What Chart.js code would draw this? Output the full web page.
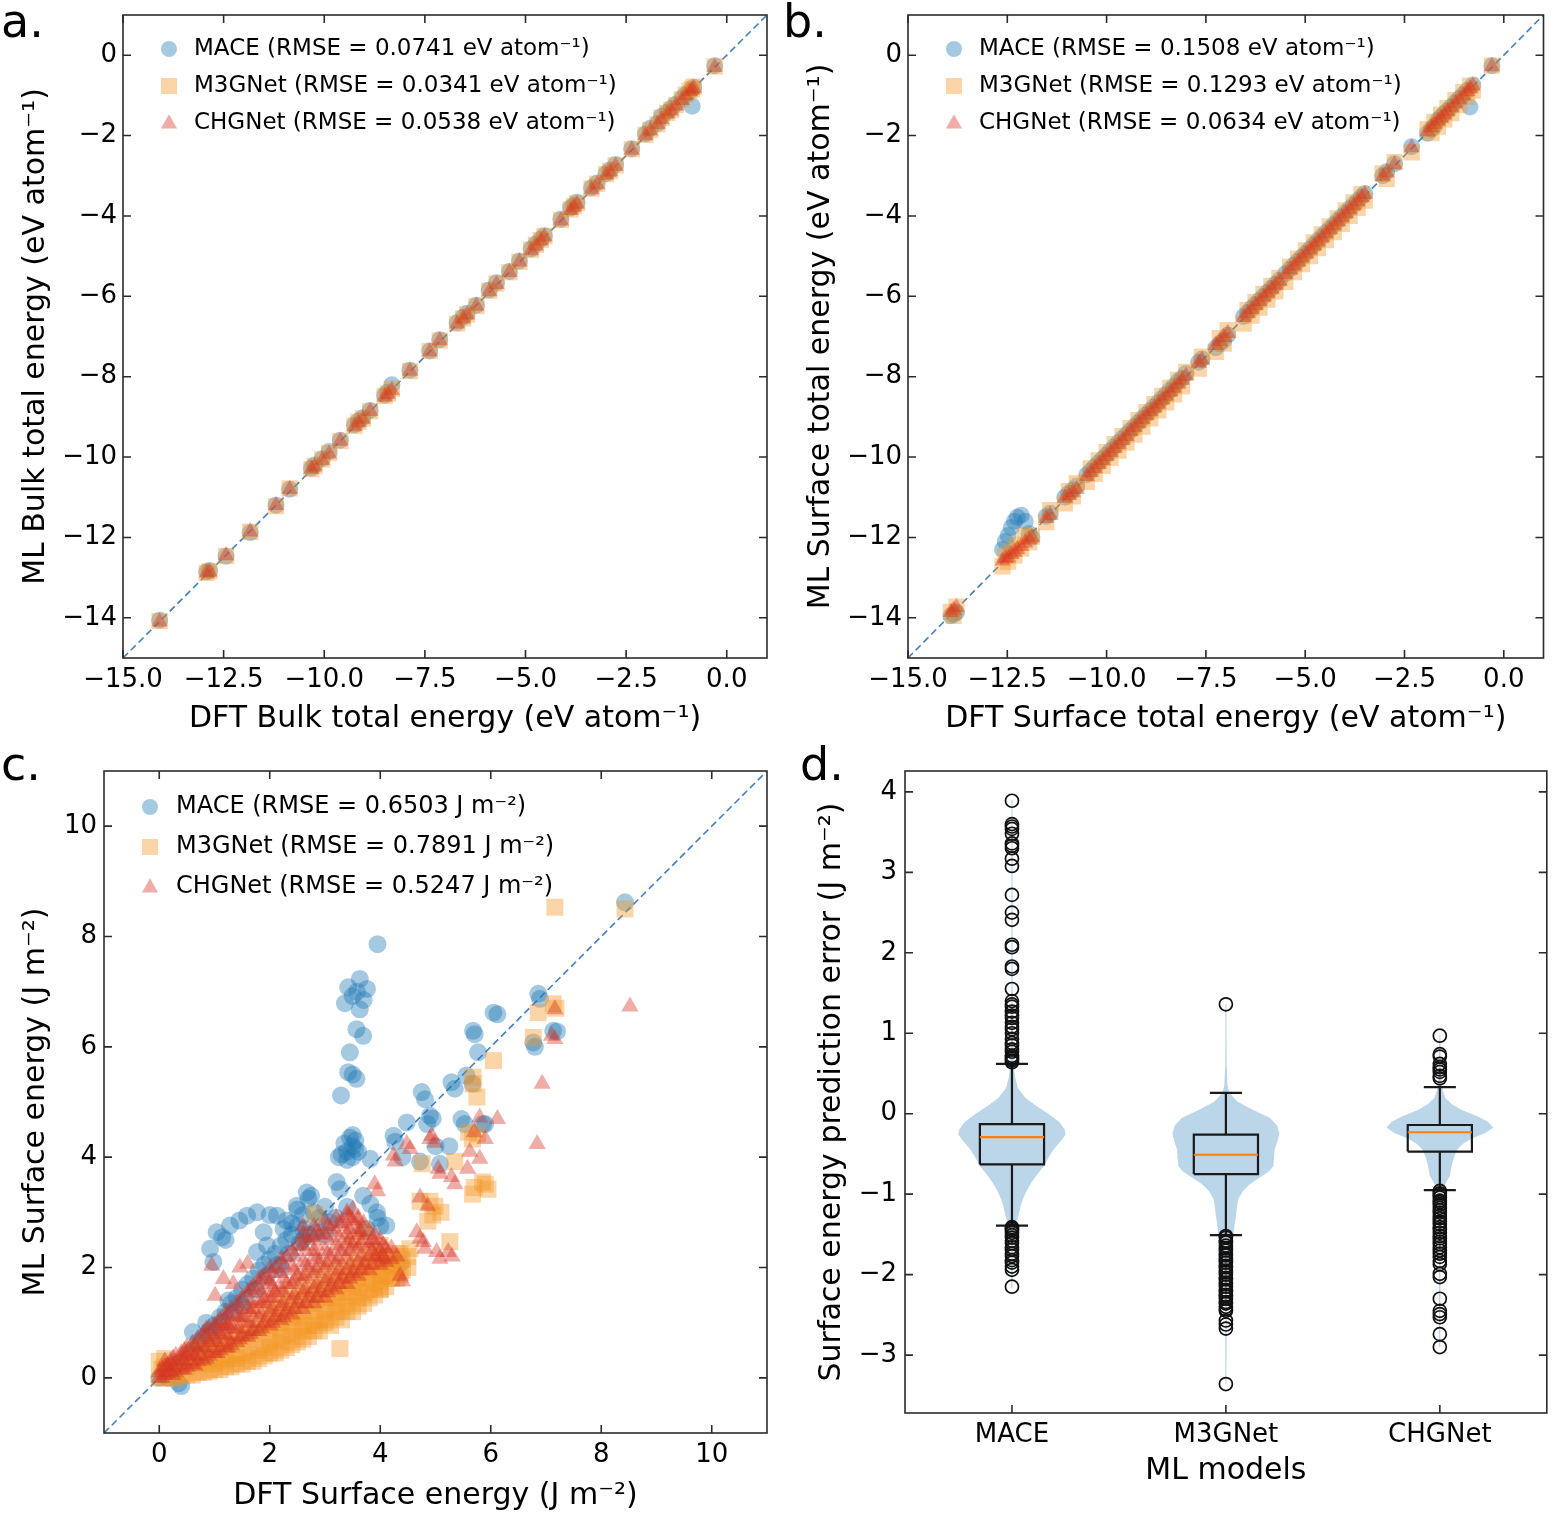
<!DOCTYPE html>
<html><head><meta charset="utf-8">
<script src="https://cdn.jsdelivr.net/npm/chart.js@4.4.1/dist/chart.umd.min.js"></script>
<style>
html,body{margin:0;padding:0;background:#fff}
body{position:relative;width:1555px;height:1514px;overflow:hidden}
canvas{position:absolute;display:block}
</style></head><body>
<canvas id="pa" width="780" height="740" style="left:0;top:0"></canvas>
<canvas id="pb" width="775" height="740" style="left:780px;top:0"></canvas>
<canvas id="pc" width="780" height="774" style="left:0;top:740px"></canvas>
<canvas id="pd" width="775" height="774" style="left:780px;top:740px"></canvas>
<script>
// ---------------- DATA ----------------
const seriesNames = ['MACE', 'M3GNet', 'CHGNet'];
const legendA = ['MACE (RMSE = 0.0741 eV atom\u207B\u00B9)', 'M3GNet (RMSE = 0.0341 eV atom\u207B\u00B9)', 'CHGNet (RMSE = 0.0538 eV atom\u207B\u00B9)'];
const legendB = ['MACE (RMSE = 0.1508 eV atom\u207B\u00B9)', 'M3GNet (RMSE = 0.1293 eV atom\u207B\u00B9)', 'CHGNet (RMSE = 0.0634 eV atom\u207B\u00B9)'];
const legendC = ['MACE (RMSE = 0.6503 J m\u207B\u00B2)', 'M3GNet (RMSE = 0.7891 J m\u207B\u00B2)', 'CHGNet (RMSE = 0.5247 J m\u207B\u00B2)'];

const energyRange = [-15, 1];
const energyTicksX = [-15, -12.5, -10, -7.5, -5, -2.5, 0];
const energyTicksY = [-14, -12, -10, -8, -6, -4, -2, 0];
const surfRange = [-1, 11];
const surfTicks = [0, 2, 4, 6, 8, 10];
const errRange = [-3.72, 4.26];
const errTicks = [-3, -2, -1, 0, 1, 2, 3, 4];

// panel a: bulk total energy
const bulkDFT = [-14.09,-12.92,-12.85,-12.44,-11.84,-11.2,-10.86,-10.32,-10.24,-10.05,-9.88,-9.6,-9.25,-9.15,-9.04,-8.86,-8.5,-8.42,-8.32,-7.87,-7.38,-7.13,-6.7,-6.55,-6.45,-6.22,-5.9,-5.72,-5.4,-5.15,-4.86,-4.74,-4.62,-4.53,-4.12,-3.88,-3.8,-3.72,-3.36,-3.22,-3.0,-2.9,-2.76,-2.36,-2.02,-1.9,-1.72,-1.62,-1.48,-1.38,-1.26,-1.12,-1.02,-0.92,-0.86,-0.82,-0.3];
const bulkMACE = [-14.06,-12.86,-12.82,-12.47,-11.88,-11.2,-10.8,-10.28,-10.2,-10.04,-9.86,-9.58,-9.2,-9.1,-9.02,-8.84,-8.46,-8.38,-8.2,-7.84,-7.36,-7.08,-6.66,-6.52,-6.42,-6.22,-5.84,-5.66,-5.38,-5.12,-4.82,-4.7,-4.58,-4.49,-4.08,-3.8,-3.74,-3.66,-3.3,-3.18,-2.95,-2.86,-2.72,-2.33,-1.96,-1.82,-1.7,-1.52,-1.42,-1.32,-1.22,-1.08,-0.98,-0.9,-1.27,-0.8,-0.26];
const bulkM3G = [-14.08,-12.88,-12.84,-12.46,-11.86,-11.22,-10.78,-10.3,-10.22,-10.06,-9.9,-9.6,-9.22,-9.12,-9.04,-8.86,-8.48,-8.42,-8.3,-7.86,-7.36,-7.1,-6.68,-6.55,-6.45,-6.24,-5.86,-5.68,-5.4,-5.14,-4.84,-4.72,-4.6,-4.5,-4.1,-3.84,-3.76,-3.68,-3.32,-3.2,-2.96,-2.88,-2.74,-2.34,-1.98,-1.86,-1.72,-1.56,-1.44,-1.36,-1.24,-1.1,-0.98,-0.88,-0.84,-0.78,-0.28];
const bulkCHG = [-14.1,-12.88,-12.86,-12.45,-11.86,-11.2,-10.8,-10.3,-10.24,-10.08,-9.92,-9.6,-9.24,-9.14,-9.05,-8.86,-8.5,-8.44,-8.34,-7.86,-7.38,-7.1,-6.68,-6.56,-6.46,-6.24,-5.88,-5.7,-5.4,-5.14,-4.86,-4.74,-4.62,-4.52,-4.12,-3.86,-3.78,-3.7,-3.34,-3.22,-2.98,-2.9,-2.76,-2.36,-2.0,-1.88,-1.72,-1.6,-1.46,-1.38,-1.26,-1.12,-1.0,-0.9,-0.86,-0.82,-0.3];

// panel b: surface total energy
const surfDFT = [-13.92,-13.85,-13.78,-12.62,-12.55,-12.48,-12.4,-12.32,-12.25,-12.15,
-12.05,-11.95,-11.88,-11.52,-11.42,-11.05,-10.95,-10.85,-10.75,-10.5,
-10.4,-10.3,-10.2,-10.1,-10.0,-9.9,-9.8,-9.7,-9.6,-9.5,
-9.4,-9.3,-9.2,-9.1,-9.0,-8.9,-8.8,-8.7,-8.6,-8.5,
-8.4,-8.3,-8.2,-8.1,-8.0,-7.68,-7.6,-7.25,-7.15,-7.05,
-6.95,-6.55,-6.45,-6.35,-6.25,-6.15,-6.05,-5.95,-5.85,-5.75,
-5.65,-5.5,-5.38,-5.28,-5.18,-5.08,-4.98,-4.88,-4.78,-4.68,
-4.58,-4.48,-4.38,-4.28,-4.18,-4.08,-3.98,-3.88,-3.78,-3.68,
-3.58,-3.5,-3.05,-2.95,-2.75,-2.32,-1.92,-1.82,-1.75,-1.66,
-1.58,-1.5,-1.42,-1.32,-1.22,-1.12,-1.02,-0.92,-0.85,-0.78,-0.3];
const surfMACE = [-13.95,-13.92,-13.86,-12.3,-12.1,-11.95,-11.75,-11.6,-11.5,-11.45,
-11.6,-11.9,-12.0,-11.48,-11.4,-11.0,-10.9,-10.82,-10.72,-10.44,
-10.34,-10.24,-10.14,-10.04,-9.94,-9.84,-9.74,-9.64,-9.54,-9.44,
-9.34,-9.24,-9.14,-9.04,-8.94,-8.84,-8.74,-8.64,-8.54,-8.44,
-8.34,-8.24,-8.12,-8.04,-7.92,-7.64,-7.56,-7.28,-7.18,-7.1,
-6.96,-6.5,-6.4,-6.3,-6.2,-6.1,-6.0,-5.9,-5.8,-5.7,
-5.6,-5.44,-5.32,-5.22,-5.12,-5.02,-4.92,-4.82,-4.72,-4.62,
-4.52,-4.42,-4.32,-4.22,-4.12,-4.02,-3.92,-3.82,-3.72,-3.62,
-3.52,-3.44,-3.0,-2.9,-2.7,-2.28,-1.94,-1.84,-1.76,-1.62,
-1.54,-1.46,-1.38,-1.28,-1.18,-1.08,-0.98,-0.88,-1.29,-0.74,-0.26];
const surfM3G = [-13.85,-13.95,-13.72,-12.72,-12.45,-12.6,-12.32,-12.45,-12.18,-12.28,
-11.95,-12.12,-11.98,-11.62,-11.32,-11.15,-10.85,-10.98,-10.65,-10.62,
-10.28,-10.42,-10.08,-10.22,-9.88,-10.02,-9.68,-9.84,-9.48,-9.64,
-9.28,-9.44,-9.08,-9.24,-8.88,-9.04,-8.68,-8.84,-8.48,-8.64,
-8.28,-8.44,-8.08,-8.24,-7.88,-7.8,-7.5,-7.38,-7.04,-7.18,
-6.84,-6.68,-6.34,-6.48,-6.14,-6.28,-5.94,-6.08,-5.74,-5.88,
-5.54,-5.64,-5.26,-5.4,-5.06,-5.2,-4.86,-5.0,-4.66,-4.8,
-4.46,-4.6,-4.26,-4.4,-4.06,-4.2,-3.86,-4.0,-3.66,-3.8,
-3.46,-3.62,-2.94,-3.08,-2.66,-2.42,-1.84,-1.94,-1.66,-1.78,
-1.48,-1.6,-1.32,-1.44,-1.12,-1.24,-0.92,-1.04,-0.76,-0.88,-0.26];
const surfCHG = [-13.86,-13.8,-13.74,-12.58,-12.52,-12.5,-12.42,-12.36,-12.3,-12.22,
-12.14,-12.05,-12.0,-11.52,-11.45,-11.02,-10.95,-10.88,-10.8,-10.48,
-10.38,-10.28,-10.18,-10.08,-9.98,-9.88,-9.78,-9.68,-9.58,-9.48,
-9.36,-9.26,-9.16,-9.06,-8.96,-8.86,-8.78,-8.68,-8.58,-8.48,
-8.38,-8.28,-8.18,-8.08,-7.98,-7.66,-7.58,-7.22,-7.12,-7.02,
-6.92,-6.52,-6.42,-6.32,-6.22,-6.12,-6.02,-5.92,-5.82,-5.72,
-5.62,-5.46,-5.34,-5.24,-5.14,-5.04,-4.94,-4.84,-4.74,-4.64,
-4.54,-4.44,-4.34,-4.24,-4.14,-4.04,-3.94,-3.84,-3.74,-3.64,
-3.54,-3.46,-3.02,-2.92,-2.72,-2.3,-1.9,-1.8,-1.72,-1.64,
-1.56,-1.48,-1.4,-1.3,-1.2,-1.1,-1.0,-0.9,-0.83,-0.76,-0.28];

// panel c: surface energy [DFT, ML] pairs
const maceSE = [[3.95,7.86],[3.63,7.23],[3.42,7.08],[3.76,7.05],[3.58,7.0],[3.5,6.92],[3.36,6.79],[3.63,6.68],[3.7,6.85],[3.57,6.32],[3.69,6.2],[3.45,5.9],[3.42,5.54],[3.57,5.42],[3.5,5.5],[3.29,5.12],
[3.3,4.05],[3.4,4.1],[3.5,4.2],[3.45,4.35],[3.55,4.3],[3.35,4.25],[3.6,4.1],[3.25,4.0],[3.5,4.0],[3.4,3.95],[3.55,4.15],[3.5,4.4],
[3.82,3.97],[3.21,3.55],[3.69,3.3],[2.67,3.36],[2.49,3.12],[3.27,3.42],[3.82,3.15],[3.95,2.9],[3.94,3.0],[4.11,2.76],[3.09,2.82],[2.85,2.64],[4.36,2.07],[4.0,2.75],[3.75,2.7],
[1.77,3.0],[1.59,2.94],[1.28,2.76],[1.04,2.64],[0.92,2.34],[0.98,2.1],[1.14,2.55],[2.13,2.94],[2.25,2.7],[1.89,2.64],[1.95,2.4],[1.77,2.28],[1.45,2.85],[2.0,2.95],[2.4,2.8],[1.2,2.5],
[4.72,3.92],[4.27,4.28],[5.08,3.88],[5.53,4.6],[5.9,4.6],[5.67,5.33],[5.71,6.23],[6.12,6.59],[6.8,6.0],[6.89,6.87],[7.2,6.28],[4.81,5.05],[4.75,5.18],[5.35,5.24],[5.29,5.36],[5.56,5.48],[5.68,6.29],[5.77,5.9],[6.05,6.62],[6.86,6.96],[7.13,6.29],[6.77,6.08],[8.43,8.62],[4.9,4.75],[4.48,4.63],[4.24,4.39],[5.47,4.69],[5.86,4.6],[5.0,4.2],[4.95,4.7],[4.85,4.6],[4.4,4.0],[5.25,4.2],
[0.0,0.0],[0.1,0.05],[0.2,0.15],[0.3,0.25],[0.4,-0.15],[0.35,-0.1],[0.5,0.35],[0.6,0.5],[0.7,0.65],[0.8,0.75],[0.9,0.85],[1.0,0.95],[1.1,1.1],[1.2,1.2],[1.3,1.35],[1.4,1.45],[1.5,1.6],[1.6,1.7],[1.7,1.8],[1.8,1.95],[1.9,2.05],[2.0,2.15],[2.1,2.25],[2.2,2.4],[2.3,2.5],[2.4,2.6],[2.5,2.75],[2.6,2.95],[2.7,3.25],[2.75,3.3],[2.2,2.0],[1.5,1.3],[1.0,0.7],[0.7,0.4],[2.6,2.5],[3.0,2.6],[0.61,0.83],[0.85,1.0],[1.25,1.4],
[0.15,0.0],[0.25,0.1],[0.45,0.3],[0.55,0.45],[0.75,0.6],[0.95,0.8],[1.15,1.0],[1.35,1.2],[1.55,1.4],[1.75,1.6],[1.95,1.85],[2.15,2.05],[2.35,2.25],[2.55,2.45],[2.65,2.7],[2.8,3.0],[2.5,3.05],[2.3,2.85],[3.0,3.1],[2.9,2.9],[2.7,2.6],[3.2,2.9],[3.4,3.1]];
const m3gSE = [[7.16,8.53],[8.43,8.5],[7.13,6.78],[6.86,6.62],[6.77,6.17],[6.05,5.75],[5.68,5.33],[5.75,5.09],[5.68,5.45],[5.76,4.42],[5.67,4.33],[5.9,3.51],[5.67,3.33],[5.95,3.42],[5.35,3.92],[4.76,3.88],[4.72,3.2],[4.99,3.11],[4.86,2.84],[4.95,2.95],[5.26,2.47],[4.54,2.34],[4.36,2.25],[4.18,2.11],[4.36,1.88],[4.04,1.84],[4.0,1.61],[3.27,0.53],[2.82,2.97],[5.7,3.45],[5.85,3.55],[5.1,3.0],[4.9,3.2],[5.6,4.45],[7.18,6.7],
[0.0,0.0],[0.0,0.3],[0.05,0.15],[0.1,0.35],[0.2,0.0],[0.2,0.2],[0.3,0.1],[0.4,0.05],[0.4,0.3],[0.6,0.05],[0.6,0.3],[0.6,0.5],[0.8,0.1],[0.8,0.35],[0.8,0.6],[1.0,0.15],[1.0,0.45],[1.0,0.7],[1.2,0.2],[1.2,0.5],[1.2,0.85],[1.4,0.25],[1.4,0.6],[1.4,0.95],[1.6,0.3],[1.6,0.7],[1.6,1.1],[1.8,0.35],[1.8,0.8],[1.8,1.25],[2.0,0.45],[2.0,0.9],[2.0,1.4],[2.2,0.5],[2.2,1.0],[2.2,1.5],[2.4,0.6],[2.4,1.1],[2.4,1.6],[2.6,0.7],[2.6,1.2],[2.6,1.75],[2.8,0.85],[2.8,1.35],[2.8,1.85],[3.0,1.0],[3.0,1.45],[3.0,1.95],[3.2,1.1],[3.2,1.55],[3.2,2.0],[3.4,1.2],[3.4,1.7],[3.4,2.1],[3.6,1.3],[3.6,1.8],[3.6,2.2],[3.8,1.45],[3.8,1.95],[3.8,2.3],[4.0,1.6],[4.0,2.1],[4.0,2.4],[4.2,1.8],[4.2,2.2],[3.5,2.5],[3.7,2.65],[2.5,0.9],[1.9,0.6],[1.3,0.4],[3.1,1.25],[3.5,1.5],
[0.1,0.0],[0.1,0.2],[0.3,0.0],[0.3,0.2],[0.5,0.05],[0.5,0.2],[0.5,0.4],[0.7,0.1],[0.7,0.25],[0.7,0.45],[0.9,0.12],[0.9,0.3],[0.9,0.5],[1.1,0.15],[1.1,0.35],[1.1,0.6],[1.3,0.2],[1.3,0.65],[1.5,0.25],[1.5,0.45],[1.5,0.75],[1.7,0.3],[1.7,0.55],[1.7,0.85],[1.9,0.4],[1.9,0.95],[2.1,0.45],[2.1,0.7],[2.1,1.0],[2.1,1.25],[2.3,0.55],[2.3,0.8],[2.3,1.1],[2.3,1.35],[2.5,0.65],[2.5,1.15],[2.5,1.45],[2.7,0.75],[2.7,0.95],[2.7,1.25],[2.7,1.55],[2.9,0.85],[2.9,1.05],[2.9,1.35],[2.9,1.65],[3.1,0.95],[3.1,1.45],[3.1,1.75],[3.3,1.05],[3.3,1.3],[3.3,1.55],[3.3,1.85],[3.5,1.2],[3.5,1.65],[3.5,1.95],[3.7,1.35],[3.7,1.55],[3.7,1.75],[3.7,2.05],[3.9,1.5],[3.9,1.7],[3.9,1.9],[3.9,2.15],[4.1,1.65],[4.1,1.85],[4.1,2.05],[4.3,1.8],[4.3,2.0],[4.3,2.25],[4.5,2.0],[4.5,2.2],
[1.0,0.25],[1.0,0.5],[1.2,0.3],[1.2,0.6],[1.4,0.35],[1.4,0.7],[1.6,0.4],[1.6,0.8],[1.8,0.5],[1.8,0.9],[2.0,0.55],[2.0,0.75],[2.0,1.1],[2.2,0.65],[2.2,0.85],[2.2,1.2],[2.4,0.75],[2.4,0.95],[2.4,1.3],[2.6,0.85],[2.6,1.0],[2.6,1.4],[2.8,0.95],[2.8,1.15],[2.8,1.5],[3.0,1.05],[3.0,1.25],[3.0,1.6],[3.2,1.2],[3.2,1.4],[3.2,1.7],[3.4,1.35],[3.4,1.5],[3.4,1.8],[3.6,1.45],[3.6,1.65],[3.6,1.9],[3.8,1.6],[3.8,1.8],[3.8,2.05],[4.0,1.75],[4.0,1.9],[4.0,2.2],[4.2,1.9],[4.2,2.05],[4.4,1.95],[4.4,2.15]];
const chgSE = [[8.52,6.73],[6.93,5.33],[6.84,4.24],[7.16,6.68],[7.16,6.14],[6.12,4.69],[5.9,4.33],[5.8,4.72],[5.62,4.1],[5.8,3.97],[5.58,3.79],[5.35,3.51],[5.08,3.7],[4.9,4.33],[4.54,4.15],[4.27,3.92],[4.99,4.26],[3.95,3.38],[4.86,3.11],[4.72,2.52],[4.81,2.34],[5.08,2.16],[5.3,2.2],[4.4,1.75],[4.0,2.16],[3.9,3.51],[4.24,4.03],[4.48,4.24],[4.93,4.39],[5.05,3.79],[5.29,3.64],[4.72,3.27],[4.66,2.64],[4.78,2.46],[5.02,2.28],[5.23,2.28],[4.36,1.85],[1.01,1.49],[0.95,2.03],[1.16,1.79],[1.46,2.0],[1.6,2.07],[1.34,1.7],[7.1,6.2],[5.7,4.45],
[0.0,0.0],[0.0,0.1],[0.1,0.05],[0.1,0.2],[0.1,0.3],[0.3,0.1],[0.3,0.25],[0.3,0.4],[0.5,0.2],[0.5,0.4],[0.5,0.55],[0.7,0.3],[0.7,0.5],[0.7,0.7],[0.9,0.4],[0.9,0.65],[0.9,0.9],[1.1,0.5],[1.1,0.8],[1.1,1.05],[1.3,0.6],[1.3,0.95],[1.3,1.25],[1.5,0.75],[1.5,1.1],[1.5,1.45],[1.7,0.85],[1.7,1.25],[1.7,1.65],[1.9,1.0],[1.9,1.4],[1.9,1.85],[2.1,1.1],[2.1,1.55],[2.1,2.0],[2.3,1.2],[2.3,1.7],[2.3,2.2],[2.5,1.35],[2.5,1.85],[2.5,2.4],[2.6,2.6],[2.6,2.75],[2.7,1.45],[2.7,2.0],[2.7,2.5],[2.9,1.55],[2.9,2.1],[2.9,2.6],[3.1,1.65],[3.1,2.2],[3.1,2.7],[3.3,1.8],[3.3,2.3],[3.3,2.8],[3.4,2.6],[3.4,2.95],[3.5,1.9],[3.5,2.4],[3.5,2.85],[3.5,3.05],[3.6,2.7],[3.6,2.9],[3.7,2.05],[3.7,2.5],[3.7,2.8],[3.9,2.2],[3.9,2.45],[3.9,2.6],[4.1,2.1],[4.1,2.35],[4.3,2.2],[2.0,1.7],[1.2,0.9],[2.8,2.3],
[0.05,0.0],[0.05,0.15],[0.15,0.08],[0.15,0.22],[0.2,0.12],[0.2,0.3],[0.4,0.15],[0.4,0.32],[0.4,0.45],[0.6,0.25],[0.6,0.42],[0.6,0.62],[0.8,0.32],[0.8,0.55],[0.8,0.8],[1.0,0.45],[1.0,0.7],[1.0,0.95],[1.2,0.55],[1.2,0.78],[1.2,1.0],[1.2,1.18],[1.4,0.65],[1.4,0.88],[1.4,1.12],[1.4,1.35],[1.6,0.75],[1.6,1.0],[1.6,1.25],[1.6,1.55],[1.8,0.85],[1.8,1.1],[1.8,1.35],[1.8,1.6],[1.8,1.78],[2.0,0.95],[2.0,1.2],[2.0,1.45],[2.0,1.75],[2.0,1.98],[2.2,1.05],[2.2,1.3],[2.2,1.6],[2.2,1.9],[2.2,2.15],[2.4,1.15],[2.4,1.42],[2.4,1.7],[2.4,2.0],[2.4,2.3],[2.6,1.25],[2.6,1.55],[2.6,1.8],[2.6,2.1],[2.6,2.4],[2.8,1.35],[2.8,1.62],[2.8,1.9],[2.8,2.2],[2.8,2.55],[2.8,2.75],[3.0,1.45],[3.0,1.75],[3.0,2.0],[3.0,2.3],[3.0,2.6],[3.0,2.85],[3.2,1.6],[3.2,1.85],[3.2,2.1],[3.2,2.4],[3.2,2.65],[3.2,2.9],[3.4,1.7],[3.4,1.95],[3.4,2.2],[3.4,2.45],[3.4,2.75],[3.4,3.0],[3.6,1.85],[3.6,2.1],[3.6,2.35],[3.6,2.6],[3.6,2.85],[3.8,1.95],[3.8,2.2],[3.8,2.4],[3.8,2.65],[4.0,2.05],[4.0,2.3],[4.0,2.5],[4.2,2.15],[4.2,2.35],
[0.25,0.05],[0.25,0.2],[0.25,0.35],[0.45,0.15],[0.45,0.3],[0.45,0.48],[0.65,0.22],[0.65,0.4],[0.65,0.58],[0.85,0.35],[0.85,0.55],[0.85,0.75],[0.85,0.88],[1.05,0.45],[1.05,0.65],[1.05,0.85],[1.05,1.0],[1.25,0.55],[1.25,0.75],[1.25,0.95],[1.25,1.15],[1.45,0.7],[1.45,0.9],[1.45,1.1],[1.45,1.3],[1.65,0.8],[1.65,1.0],[1.65,1.2],[1.65,1.4],[1.65,1.6],[1.85,0.9],[1.85,1.15],[1.85,1.35],[1.85,1.55],[1.85,1.8],[2.05,1.0],[2.05,1.25],[2.05,1.45],[2.05,1.65],[2.05,1.9],[2.25,1.1],[2.25,1.35],[2.25,1.55],[2.25,1.8],[2.25,2.05],[2.45,1.25],[2.45,1.5],[2.45,1.75],[2.45,1.95],[2.45,2.2],[2.65,1.35],[2.65,1.6],[2.65,1.85],[2.65,2.05],[2.65,2.3],[2.65,2.55],[2.85,1.45],[2.85,1.7],[2.85,1.95],[2.85,2.15],[2.85,2.4],[2.85,2.65],[3.05,1.55],[3.05,1.8],[3.05,2.05],[3.05,2.25],[3.05,2.5],[3.05,2.75],[3.25,1.7],[3.25,1.95],[3.25,2.15],[3.25,2.35],[3.25,2.55],[3.25,2.8],[3.45,1.8],[3.45,2.05],[3.45,2.3],[3.45,2.5],[3.45,2.7],[3.45,2.9],[3.65,1.95],[3.65,2.2],[3.65,2.45],[3.65,2.65],[3.85,2.05],[3.85,2.3],[3.85,2.5],[4.05,2.2],[4.05,2.4]];

// panel d: surface energy prediction error
const models = ['MACE', 'M3GNet', 'CHGNet'];
const modelPos = [1, 2, 3];
const q1 = [-0.63, -0.75, -0.47];
const median = [-0.29, -0.51, -0.23];
const q3 = [-0.13, -0.26, -0.14];
const whiskLo = [-1.39, -1.51, -0.95];
const whiskHi = [0.62, 0.26, 0.33];
const outMACE = [3.89,3.6,3.57,3.54,3.48,3.36,3.33,3.3,3.17,3.08,2.72,2.5,2.41,2.1,2.07,1.83,1.8,1.55,1.4,1.36,1.33,1.27,1.22,1.19,1.13,1.08,1.05,1.0,0.93,0.88,0.85,0.8,0.77,0.72,0.7,0.68,0.66,0.64,-1.41,-1.43,-1.45,-1.48,-1.51,-1.54,-1.58,-1.61,-1.66,-1.69,-1.74,-1.77,-1.82,-1.85,-1.9,-1.94,-2.15];
const outM3G = [1.36,-1.52,-1.54,-1.58,-1.6,-1.64,-1.67,-1.7,-1.74,-1.76,-1.8,-1.82,-1.85,-1.89,-1.91,-1.95,-1.97,-2.0,-2.04,-2.06,-2.1,-2.12,-2.15,-2.19,-2.21,-2.25,-2.27,-2.3,-2.34,-2.36,-2.4,-2.43,-2.45,-2.57,-2.62,-2.67,-3.36];
const outCHG = [0.97,0.74,0.71,0.62,0.58,0.55,0.52,0.47,0.44,-0.96,-0.99,-1.01,-1.04,-1.08,-1.1,-1.13,-1.17,-1.2,-1.23,-1.27,-1.3,-1.34,-1.37,-1.41,-1.44,-1.48,-1.52,-1.55,-1.59,-1.62,-1.66,-1.7,-1.74,-1.78,-1.83,-1.87,-1.99,-2.03,-2.3,-2.45,-2.49,-2.53,-2.74,-2.9];
// violin density profiles: [error value, relative density (max = 1)]
const vioMACE = [[3.9,0.01],[1.2,0.015],[0.6,0.03],[0.45,0.06],[0.32,0.11],[0.2,0.25],[0.1,0.45],[0.0,0.68],[-0.1,0.88],[-0.2,0.99],[-0.26,1.0],[-0.35,0.9],[-0.45,0.77],[-0.55,0.68],[-0.65,0.6],[-0.75,0.48],[-0.85,0.37],[-0.95,0.28],[-1.05,0.21],[-1.15,0.16],[-1.27,0.12],[-1.38,0.06],[-1.5,0.03],[-1.8,0.015],[-2.17,0.01]];
const vioM3G = [[1.36,0.01],[0.6,0.015],[0.35,0.03],[0.25,0.07],[0.15,0.22],[0.05,0.5],[-0.05,0.82],[-0.15,0.96],[-0.25,1.0],[-0.35,0.96],[-0.45,0.91],[-0.55,0.9],[-0.65,0.89],[-0.72,0.8],[-0.8,0.62],[-0.88,0.44],[-0.96,0.32],[-1.06,0.23],[-1.2,0.2],[-1.35,0.17],[-1.5,0.14],[-1.65,0.08],[-1.85,0.04],[-2.2,0.02],[-2.6,0.012],[-3.36,0.008]];
const vioCHG = [[0.98,0.01],[0.5,0.02],[0.3,0.05],[0.2,0.1],[0.12,0.22],[0.05,0.4],[-0.03,0.7],[-0.1,0.9],[-0.17,1.0],[-0.24,0.85],[-0.31,0.59],[-0.38,0.42],[-0.45,0.32],[-0.55,0.26],[-0.65,0.22],[-0.77,0.19],[-0.85,0.12],[-0.95,0.06],[-1.1,0.03],[-1.5,0.015],[-2.9,0.01]];

// ---------------- STYLE ----------------
const FAM = '"DejaVu Sans", "Liberation Sans", sans-serif';
const COL = ['rgba(31,119,180,0.4)', 'rgba(245,150,35,0.4)', 'rgba(212,50,35,0.4)'];
const STY = ['circle', 'rect', 'triangle'];
const VIOLIN_HALF = 0.25, BOX_HALF = 0.15, CAP_HALF = 0.075;

const minus = s => String(s).replace('-', '\u2212');
const fmtInt = v => minus(v);
const fmt1 = v => minus(v.toFixed(1));

function makeScale(o) {
  return {
    type: 'linear', position: o.pos, min: o.min, max: o.max,
    afterBuildTicks: s => { s.ticks = o.ticks.map(v => ({ value: v })); },
    afterFit: s => {
      if (o.pos === 'left') s.width = o.size; else s.height = o.size;
      s.paddingTop = 0; s.paddingBottom = 0; s.paddingLeft = 0; s.paddingRight = 0;
    },
    grid: { display: false, drawTicks: false },
    border: { display: false },
    ticks: { font: { family: FAM, size: 26 }, color: '#000', padding: o.tickPad, callback: o.fmt, maxRotation: 0, autoSkip: false },
    title: { display: true, text: o.title, font: { family: FAM, size: 30 }, color: '#000', padding: o.titlePad }
  };
}

const frame = {
  id: 'frame',
  afterDatasetsDraw(chart, args, o) {
    const { ctx, chartArea: a } = chart;
    const xs = chart.scales.x, ys = chart.scales.y;
    const L = 8;
    ctx.save();
    ctx.strokeStyle = '#2b2b2b'; ctx.lineWidth = 1.6;
    ctx.beginPath();
    xs.ticks.forEach(t => {
      const p = xs.getPixelForValue(t.value);
      ctx.moveTo(p, a.bottom); ctx.lineTo(p, a.bottom - L);
      if (o.topTicks !== false) { ctx.moveTo(p, a.top); ctx.lineTo(p, a.top + L); }
    });
    ys.ticks.forEach(t => {
      const p = ys.getPixelForValue(t.value);
      ctx.moveTo(a.left, p); ctx.lineTo(a.left + L, p);
      ctx.moveTo(a.right, p); ctx.lineTo(a.right - L, p);
    });
    ctx.stroke();
    ctx.strokeRect(a.left, a.top, a.right - a.left, a.bottom - a.top);
    ctx.restore();
  }
};

function marker(ctx, style, x, y, s) {
  ctx.beginPath();
  if (style === 'circle') ctx.arc(x, y, s, 0, Math.PI * 2);
  else if (style === 'rect') ctx.rect(x - s, y - s, 2 * s, 2 * s);
  else { ctx.moveTo(x, y - s * 1.1); ctx.lineTo(x + s, y + s * 0.7); ctx.lineTo(x - s, y + s * 0.7); ctx.closePath(); }
  ctx.fill();
}

const deco = {
  id: 'deco',
  afterDraw(chart, args, o) {
    const ctx = chart.ctx;
    ctx.save();
    ctx.fillStyle = '#000'; ctx.textAlign = 'left';
    ctx.font = '46px ' + FAM; ctx.textBaseline = 'alphabetic';
    ctx.fillText(o.label, o.lx, o.ly);
    if (o.legend) {
      const lg = o.legend;
      ctx.font = lg.size + 'px ' + FAM; ctx.textBaseline = 'middle';
      chart.data.datasets.filter(d => d.inLegend).forEach((d, i) => {
        const y = lg.y0 + i * lg.dy;
        ctx.fillStyle = d.backgroundColor;
        marker(ctx, d.pointStyle, lg.mx, y, 8);
        ctx.fillStyle = '#000';
        ctx.fillText(d.label, lg.tx, y);
      });
    }
    ctx.restore();
  }
};

function scatterSets(sets, labels, range, sizes) {
  const ds = sets.map((pts, i) => ({
    label: labels[i], inLegend: true, data: pts,
    pointStyle: STY[i], pointRadius: sizes[i], backgroundColor: COL[i],
    pointBackgroundColor: COL[i], pointBorderWidth: 0, borderWidth: 0, order: 3 - i
  }));
  ds.push({ type: 'line', label: 'y = x', data: [{ x: range[0], y: range[0] }, { x: range[1], y: range[1] }],
    borderColor: '#3f7fc4', borderDash: [7, 4], borderWidth: 1.6, pointRadius: 0, fill: false, order: 4 });
  return ds;
}

const baseOpts = (pad, scales, decoOpt, frameOpt) => ({
  responsive: false, animation: false, events: [],
  layout: { padding: pad },
  plugins: { legend: { display: false }, tooltip: { enabled: false }, deco: decoOpt, frame: frameOpt || {} },
  scales
});

const toPts = (xs, ys) => xs.map((x, i) => ({ x, y: ys[i] }));
const pairPts = arr => arr.map(([x, y]) => ({ x, y }));

// ---------------- PANEL A ----------------
new Chart(document.getElementById('pa'), {
  type: 'scatter',
  data: { datasets: scatterSets([toPts(bulkDFT, bulkMACE), toPts(bulkDFT, bulkM3G), toPts(bulkDFT, bulkCHG)], legendA, energyRange, [8.5, 11.5, 9.5]) },
  options: baseOpts({ left: 0, top: 15, right: 13, bottom: 0 }, {
    x: makeScale({ pos: 'bottom', min: energyRange[0], max: energyRange[1], ticks: energyTicksX, fmt: fmt1, title: 'DFT Bulk total energy (eV atom\u207B\u00B9)', size: 82, tickPad: 7, titlePad: { bottom: 3 } }),
    y: makeScale({ pos: 'left', min: energyRange[0], max: energyRange[1], ticks: energyTicksY, fmt: fmtInt, title: 'ML Bulk total energy (eV atom\u207B\u00B9)', size: 123, tickPad: 6, titlePad: { top: 18 } })
  }, { label: 'a.', lx: 1, ly: 37, legend: { size: 23, mx: 169, tx: 194, y0: 49, dy: 37 } }),
  plugins: [frame, deco]
});

// ---------------- PANEL B ----------------
new Chart(document.getElementById('pb'), {
  type: 'scatter',
  data: { datasets: scatterSets([toPts(surfDFT, surfMACE), toPts(surfDFT, surfM3G), toPts(surfDFT, surfCHG)], legendB, energyRange, [8.5, 11.5, 9.5]) },
  options: baseOpts({ left: 0, top: 15, right: 3, bottom: 0 }, {
    x: makeScale({ pos: 'bottom', min: energyRange[0], max: energyRange[1], ticks: energyTicksX, fmt: fmt1, title: 'DFT Surface total energy (eV atom\u207B\u00B9)', size: 82, tickPad: 7, titlePad: { bottom: 3 } }),
    y: makeScale({ pos: 'left', min: energyRange[0], max: energyRange[1], ticks: energyTicksY, fmt: fmtInt, title: 'ML Surface total energy (eV atom\u207B\u00B9)', size: 128, tickPad: 6, titlePad: { top: 23 } })
  }, { label: 'b.', lx: 3, ly: 37, legend: { size: 23, mx: 174, tx: 199, y0: 49, dy: 37 } }),
  plugins: [frame, deco]
});

// ---------------- PANEL C ----------------
new Chart(document.getElementById('pc'), {
  type: 'scatter',
  data: { datasets: scatterSets([pairPts(maceSE), pairPts(m3gSE), pairPts(chgSE)], legendC, surfRange, [9, 12, 10]) },
  options: baseOpts({ left: 0, top: 31, right: 13, bottom: 0 }, {
    x: makeScale({ pos: 'bottom', min: surfRange[0], max: surfRange[1], ticks: surfTicks, fmt: fmtInt, title: 'DFT Surface energy (J m\u207B\u00B2)', size: 81, tickPad: 7, titlePad: { bottom: 0 } }),
    y: makeScale({ pos: 'left', min: surfRange[0], max: surfRange[1], ticks: surfTicks, fmt: fmtInt, title: 'ML Surface energy (J m\u207B\u00B2)', size: 104, tickPad: 7, titlePad: { top: 18 } })
  }, { label: 'c.', lx: 1, ly: 40, legend: { size: 24, mx: 150, tx: 176, y0: 67, dy: 40 } }),
  plugins: [frame, deco]
});

// ---------------- PANEL D ----------------
const vios = [vioMACE, vioM3G, vioCHG];
const outs = [outMACE, outM3G, outCHG];
const dSets = [];
modelPos.forEach((p, i) => {
  const v = vios[i];
  const right = v.map(([y, w]) => ({ x: p + w * VIOLIN_HALF, y }));
  const left = v.slice().reverse().map(([y, w]) => ({ x: p - w * VIOLIN_HALF, y }));
  dSets.push({ label: models[i] + ' violin', data: right.concat(left), fill: 'shape', backgroundColor: 'rgba(31,119,180,0.3)', borderColor: 'rgba(0,0,0,0)', borderWidth: 0, pointRadius: 0, tension: 0, order: 10 });
  const line = (pts, color, w, ord) => ({ label: models[i], data: pts, borderColor: color, borderWidth: w, pointRadius: 0, fill: false, tension: 0, order: ord });
  dSets.push(line([{ x: p, y: q3[i] }, { x: p, y: whiskHi[i] }], '#1a1a1a', 2.2, 3));
  dSets.push(line([{ x: p, y: q1[i] }, { x: p, y: whiskLo[i] }], '#1a1a1a', 2.2, 3));
  dSets.push(line([{ x: p - CAP_HALF, y: whiskHi[i] }, { x: p + CAP_HALF, y: whiskHi[i] }], '#1a1a1a', 2.2, 3));
  dSets.push(line([{ x: p - CAP_HALF, y: whiskLo[i] }, { x: p + CAP_HALF, y: whiskLo[i] }], '#1a1a1a', 2.2, 3));
  dSets.push(line([{ x: p - BOX_HALF, y: q1[i] }, { x: p + BOX_HALF, y: q1[i] }, { x: p + BOX_HALF, y: q3[i] }, { x: p - BOX_HALF, y: q3[i] }, { x: p - BOX_HALF, y: q1[i] }], '#1a1a1a', 2.2, 2));
  dSets.push(line([{ x: p - BOX_HALF, y: median[i] }, { x: p + BOX_HALF, y: median[i] }], '#ff7f0e', 2.2, 1));
  dSets.push({ label: models[i] + ' outliers', data: outs[i].map(y => ({ x: p, y })), showLine: false, pointStyle: 'circle', pointRadius: 6.5,
    pointBackgroundColor: 'rgba(0,0,0,0)', pointBorderColor: '#111', pointBorderWidth: 1.7, order: 0 });
});

new Chart(document.getElementById('pd'), {
  type: 'line',
  data: { datasets: dSets },
  options: baseOpts({ left: 0, top: 31, right: 3, bottom: 0 }, {
    x: makeScale({ pos: 'bottom', min: 0.5, max: 3.5, ticks: modelPos, fmt: v => models[v - 1], title: 'ML models', size: 101, tickPad: 7, titlePad: { bottom: 25 } }),
    y: makeScale({ pos: 'left', min: errRange[0], max: errRange[1], ticks: errTicks, fmt: fmtInt, title: 'Surface energy prediction error (J m\u207B\u00B2)', size: 125, tickPad: 8, titlePad: { top: 34 } })
  }, { label: 'd.', lx: 20, ly: 40 }, { topTicks: false }),
  plugins: [frame, deco]
});
</script></body></html>
